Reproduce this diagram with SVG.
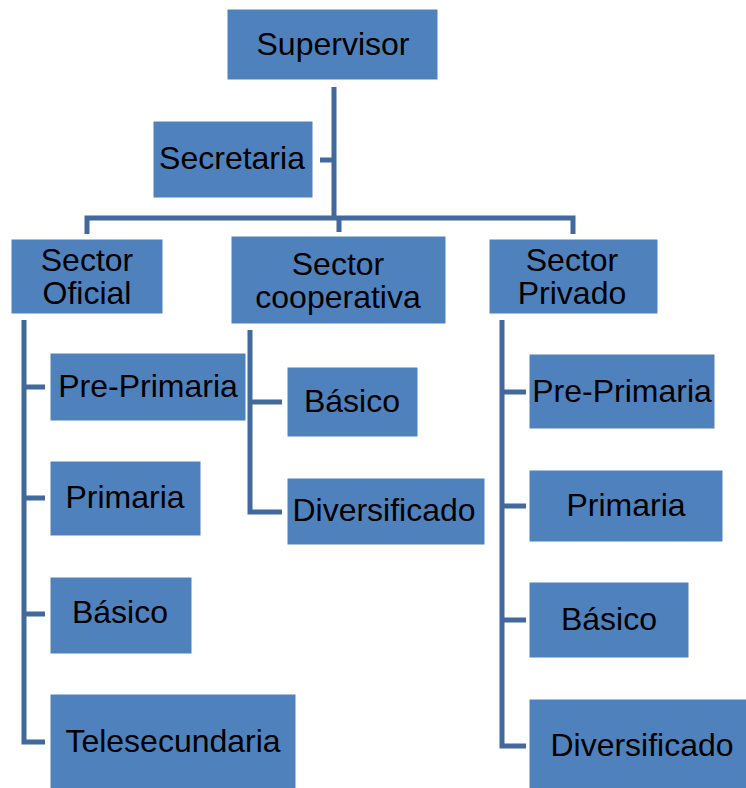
<svg xmlns="http://www.w3.org/2000/svg" width="746" height="788" viewBox="0 0 746 788">
<style>
.box{fill:#4F81BD;stroke:#ffffff;stroke-width:1}
.t{font-family:"Liberation Sans",Arial,sans-serif;font-size:32px;fill:#000;text-anchor:middle}
.c{stroke:#41699D;stroke-width:5;fill:none;stroke-linejoin:miter}
</style>
<rect width="746" height="788" fill="#fff"/>
<g id="connectors">
<path class="c" d="M334 87V218M320 160H334M87 234V218H573V234M339 218V232"/>
<path class="c" d="M24 320V742H45M24 387H45M24 498H45M24 614H45"/>
<path class="c" d="M250 330V512H282M250 402H282"/>
<path class="c" d="M502 320V746H526M502 392H526M502 506H526M502 620H526"/>
</g>
<g id="supervisor"><rect class="box" x="227" y="9" width="211" height="71"/><text class="t" x="333" y="55">Supervisor</text></g>
<g id="secretaria"><rect class="box" x="153" y="121" width="160" height="77"/><text class="t" x="232" y="169">Secretaria</text></g>
<g id="sector-oficial"><rect class="box" x="11" y="239" width="152" height="75"/><text class="t" x="87" y="271">Sector</text><text class="t" x="87" y="304">Oficial</text></g>
<g id="sector-cooperativa"><rect class="box" x="231" y="236" width="215" height="88"/><text class="t" x="338" y="275">Sector</text><text class="t" x="338" y="308">cooperativa</text></g>
<g id="sector-privado"><rect class="box" x="489" y="239" width="169" height="75"/><text class="t" x="572" y="271">Sector</text><text class="t" x="572" y="304">Privado</text></g>
<g id="of-preprimaria"><rect class="box" x="50" y="353" width="196" height="68"/><text class="t" x="148" y="397">Pre-Primaria</text></g>
<g id="of-primaria"><rect class="box" x="50" y="461" width="151" height="75"/><text class="t" x="125" y="508">Primaria</text></g>
<g id="of-basico"><rect class="box" x="50" y="577" width="142" height="77"/><text class="t" x="120" y="623">Básico</text></g>
<g id="of-telesecundaria"><rect class="box" x="50" y="694" width="246" height="96"/><text class="t" x="173" y="752">Telesecundaria</text></g>
<g id="co-basico"><rect class="box" x="287" y="367" width="131" height="70"/><text class="t" x="352" y="412">Básico</text></g>
<g id="co-diversificado"><rect class="box" x="287" y="478" width="198" height="67"/><text class="t" x="384" y="521">Diversificado</text></g>
<g id="pr-preprimaria"><rect class="box" x="529" y="354" width="186" height="75"/><text class="t" x="622" y="402">Pre-Primaria</text></g>
<g id="pr-primaria"><rect class="box" x="529" y="470" width="194" height="72"/><text class="t" x="626" y="516">Primaria</text></g>
<g id="pr-basico"><rect class="box" x="529" y="582" width="160" height="76"/><text class="t" x="609" y="630">Básico</text></g>
<g id="pr-diversificado"><rect class="box" x="529" y="699" width="219" height="91"/><text class="t" x="642" y="756">Diversificado</text></g>
</svg>
